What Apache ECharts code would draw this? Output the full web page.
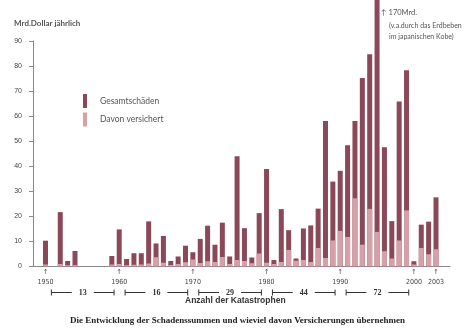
<!DOCTYPE html>
<html>
<head>
<meta charset="utf-8">
<script src="https://cdn.jsdelivr.net/npm/echarts@6/dist/echarts.min.js"></script>
<style>
  html, body { margin: 0; padding: 0; background: #fff; }
  #chart { width: 475px; height: 333px; }
</style>
</head>
<body>
<div id="chart"></div>
<script>
// Jahre 1950–2003, Schäden in Mrd. US-Dollar
const years = [];
for (let y = 1950; y <= 2003; y++) years.push(y);

const totalLosses = [
  10.3, null, 21.7, 2.2, 6.2, null, null, null, null, 4.2,   // 1950–1959
  14.8, 3.0, 5.3, 5.3, 18.0, 9.2, 12.2, 2.2, 4.0, 8.3,       // 1960–1969
  5.7, 11.0, 16.3, 8.7, 17.5, 4.0, 44.0, 15.3, 3.6, 21.3,    // 1970–1979
  38.9, 2.6, 22.9, 14.5, 3.2, 15.2, 16.4, 23.1, 58.1, 33.9,  // 1980–1989
  38.2, 48.4, 58.1, 75.2, 84.7, 170, 47.6, 18.1, 65.9, 78.3, // 1990–1999
  2.1, 16.7, 17.9, 27.6                                      // 2000–2003
];

const insuredLosses = [
  0.8, null, 1.0, 0.5, 0.6, null, null, null, null, 0.8,
  1.0, 0.5, 0.7, 0.8, 1.2, 3.7, 1.5, 0.6, 1.0, 1.7,
  2.8, 1.4, 2.1, 1.8, 3.8, 1.0, 2.6, 2.2, 1.3, 5.2,
  1.5, 1.0, 1.8, 6.6, 2.3, 2.6, 1.8, 7.4, 3.4, 10.4,
  14.2, 11.8, 27.2, 8.7, 23.0, 13.8, 6.1, 3.2, 10.4, 22.4,
  0.8, 7.4, 4.9, 6.9
];

// Jahre mit Beschriftung an der x-Achse
const yearLabels = [1950, 1960, 1970, 1980, 1990, 2000, 2003];

// Anzahl der Katastrophen je Jahrzehnt
const decadeStarts = [1950, 1960, 1970, 1980, 1990];
const disasterCounts = [13, 16, 29, 44, 72];

// Jahr mit abgeschnittenem Balken (Kobe)
const brokenYear = 1995;

const DARK = '#8b4859';
const LIGHT = '#d6a0a8';
const TEXT = '#555';

const chart = echarts.init(document.getElementById('chart'), null, { renderer: 'canvas' });

const totalData = years.map((y, i) => [y, totalLosses[i]]);
const insuredData = years.map((y, i) => [y, insuredLosses[i]]);
const decadeData = decadeStarts.map((y, i) => [y, 0, disasterCounts[i]]);

chart.setOption({
  animation: false,
  backgroundColor: '#fff',
  grid: { left: 33, right: 25, top: 41, bottom: 66.5, containLabel: false },
  legend: {
    orient: 'vertical',
    left: 83,
    top: 94,
    padding: 0,
    itemWidth: 4,
    itemHeight: 14,
    itemGap: 4.5,
    icon: 'rect',
    textStyle: { fontSize: 8.5, color: TEXT, fontFamily: 'Lato, "Open Sans", sans-serif', padding: [0, 0, 0, 8] },
    data: ['Gesamtschäden', 'Davon versichert']
  },
  xAxis: {
    type: 'value',
    min: 1948.3,
    max: 2004.9,
    axisLine: { show: true, lineStyle: { color: '#888', width: 1 } },
    axisTick: { show: false },
    splitLine: { show: false },
    axisLabel: {
      customValues: yearLabels,
      margin: 1,
      fontSize: 7,
      lineHeight: 10,
      color: '#444',
      fontFamily: '"Liberation Sans Narrow", "DejaVu Sans Condensed", sans-serif',
      formatter: v => '↑\n' + v
    }
  },
  yAxis: {
    type: 'value',
    min: 0,
    max: 90,
    interval: 10,
    axisLine: { show: true, lineStyle: { color: '#888', width: 1 } },
    axisTick: { show: true, length: 4, lineStyle: { color: '#888' } },
    splitLine: { show: false },
    axisLabel: { margin: 11, fontSize: 7, color: '#444', fontFamily: 'sans-serif' }
  },
  series: [
    {
      name: 'Gesamtschäden',
      type: 'bar',
      data: totalData,
      barWidth: 5,
      barGap: '-100%',
      clip: false,
      itemStyle: { color: DARK }
    },
    {
      name: 'Davon versichert',
      type: 'bar',
      data: insuredData,
      barWidth: 5,
      barGap: '-100%',
      clip: false,
      itemStyle: { color: LIGHT }
    },
    {
      // Unterbrechungsstriche im abgeschnittenen Balken
      type: 'custom',
      silent: true,
      clip: false,
      data: [[brokenYear, 0]],
      encode: { x: 0, y: 1 },
      renderItem: (params, api) => {
        const x = api.coord([api.value(0), 90])[0];
        const yTop = api.coord([api.value(0), 90])[1];
        const children = [];
        for (let k = 0; k < 5; k++) {
          const yy = yTop - 14 - k * 3;
          children.push({
            type: 'line',
            shape: { x1: x - 2.5, y1: yy, x2: x + 2.5, y2: yy },
            style: { stroke: '#fff', lineWidth: 1 }
          });
        }
        return { type: 'group', children };
      }
    },
    {
      // Klammern mit der Anzahl der Katastrophen je Jahrzehnt
      type: 'custom',
      silent: true,
      clip: false,
      data: decadeData,
      encode: { x: 0, y: 1 },
      renderItem: (params, api) => {
        const start = api.value(0);
        const count = api.value(2);
        const p1 = api.coord([start + 0.8, 0]);
        const p2 = api.coord([start + 9.3, 0]);
        const y = p1[1] + 26;
        const midX = (p1[0] + p2[0]) / 2;
        const stroke = '#333';
        return {
          type: 'group',
          children: [
            { type: 'line', shape: { x1: p1[0], y1: y - 3, x2: p1[0], y2: y + 3 }, style: { stroke, lineWidth: 1 } },
            { type: 'line', shape: { x1: p2[0], y1: y - 3, x2: p2[0], y2: y + 3 }, style: { stroke, lineWidth: 1 } },
            { type: 'line', shape: { x1: p1[0], y1: y, x2: midX - 11, y2: y }, style: { stroke, lineWidth: 1 } },
            { type: 'line', shape: { x1: midX + 11, y1: y, x2: p2[0], y2: y }, style: { stroke, lineWidth: 1 } },
            {
              type: 'text',
              x: midX, y: y,
              style: {
                text: String(count),
                align: 'center', verticalAlign: 'middle',
                fontSize: 8, fontWeight: 'bold',
                fill: '#333', fontFamily: '"Liberation Serif", serif'
              }
            }
          ]
        };
      }
    }
  ],
  graphic: [
    {
      type: 'text', left: 14, top: 19,
      style: { text: 'Mrd.Dollar jährlich', fontSize: 8, fontWeight: 'bold', fill: TEXT, fontFamily: 'Lato, "Open Sans", sans-serif' }
    },
    {
      type: 'text', left: 381, top: 9,
      style: { text: '↑ 170Mrd.', fontSize: 7.5, fill: TEXT, fontFamily: 'Lato, "Open Sans", sans-serif' }
    },
    {
      type: 'text', left: 389, top: 20,
      style: { text: '(v.a.durch das Erdbeben\nim japanischen Kobe)', fontSize: 7, lineHeight: 11, fill: TEXT, fontFamily: 'Lato, "Open Sans", sans-serif' }
    },
    {
      type: 'text', left: 185, top: 296,
      style: { text: 'Anzahl der Katastrophen', fontSize: 8.5, fontWeight: 'bold', fill: '#333', fontFamily: '"Liberation Sans", sans-serif' }
    },
    {
      type: 'text', left: 'center', top: 316,
      style: { text: 'Die Entwicklung der Schadenssummen und wieviel davon Versicherungen übernehmen', fontSize: 9, fontWeight: 'bold', fill: '#222', fontFamily: '"Liberation Serif", serif' }
    }
  ]
});
</script>
</body>
</html>
